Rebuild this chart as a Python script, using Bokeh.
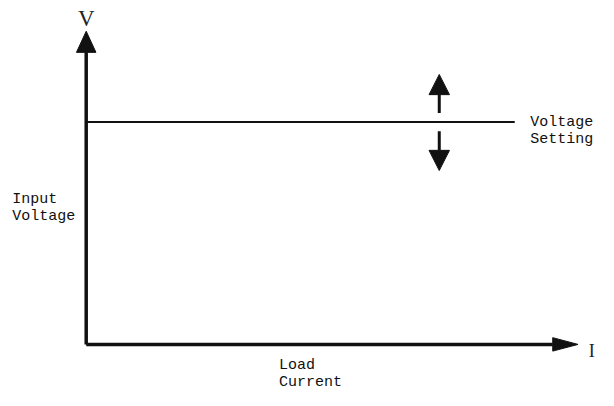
from bokeh.plotting import figure
from bokeh.models import Range1d
from bokeh.core.properties import value
from bokeh.embed import file_html
from bokeh.resources import INLINE

# ---- diagram values (origin = axes corner) ----
current_axis_end = [505]        # I axis arrow tip
voltage_axis_end = [326]        # V axis arrow tip
voltage_setting = [231.5]       # level of the constant input voltage
setting_line_end = [440]        # where the setting line stops
adjust_at = [362.5]             # current position of the up/down adjust arrows
adjust_up_tip = [281]
adjust_down_tip = [181]
adjust_gap = [9.5]              # half gap around the line

axis_names = ["V", "I"]
label_lines_setting = ["Voltage", "Setting"]
label_lines_input = ["Input", "Voltage"]
label_lines_load = ["Load", "Current"]

# ---- styles ----
AX_W = 3.5
HEAD_Y = (20, 22)    # (width, length) of V axis head
HEAD_X = (14, 26)    # (width, length) of I axis head
HEAD_ADJ = (21, 21)
MONO = value("Liberation Mono")
SERIF = value("Liberation Serif")
INK = "#111111"

p = figure(width=598, height=390, output_backend="svg", toolbar_location=None,
           x_range=Range1d(-88, 526), y_range=Range1d(-48, 358),
           min_border=0, outline_line_color=None,
           background_fill_color="white", border_fill_color="white")
p.axis.visible = False
p.grid.visible = False

vx = voltage_axis_end[0]
ix = current_axis_end[0]

# axes shafts
p.segment(x0=[0, 0], y0=[0, 0], x1=[0, ix - HEAD_X[1]], y1=[vx - HEAD_Y[1], 0],
          line_width=AX_W, line_color=INK)
# axis heads
p.patches(xs=[[-HEAD_Y[0] / 2, HEAD_Y[0] / 2, 0],
              [ix - HEAD_X[1], ix - HEAD_X[1], ix]],
          ys=[[vx - HEAD_Y[1], vx - HEAD_Y[1], vx],
              [-HEAD_X[0] / 2, HEAD_X[0] / 2, 0]],
          fill_color=INK, line_color=INK, line_width=1)

# voltage setting line
p.segment(x0=[0], y0=voltage_setting, x1=setting_line_end, y1=voltage_setting,
          line_width=2, line_color=INK)

# adjust arrows
ax = adjust_at[0]
vs = voltage_setting[0]
g = adjust_gap[0]
up = adjust_up_tip[0]
dn = adjust_down_tip[0]
p.segment(x0=[ax, ax], y0=[vs + g, vs - g],
          x1=[ax, ax], y1=[up - HEAD_ADJ[1], dn + HEAD_ADJ[1]],
          line_width=3, line_color=INK)
hw = HEAD_ADJ[0] / 2
p.patches(xs=[[ax - hw, ax + hw, ax], [ax - hw, ax + hw, ax]],
          ys=[[up - HEAD_ADJ[1], up - HEAD_ADJ[1], up],
              [dn + HEAD_ADJ[1], dn + HEAD_ADJ[1], dn]],
          fill_color=INK, line_color=INK, line_width=1)

# axis letters
p.text(x=[0], y=[vx + 13], text=[axis_names[0]], text_font=SERIF,
       text_font_size="23px", text_align="center", text_baseline="alphabetic",
       text_color="#222222")
p.text(x=[ix + 14], y=[-7], text=[axis_names[1]], text_font=SERIF,
       text_font_size="18px", text_align="center", text_baseline="alphabetic",
       text_color="#222222")

# labels
def two_lines(x, y_first, lines):
    p.text(x=[x, x], y=[y_first, y_first - 17.5], text=lines, text_font=MONO,
           text_font_size="15px", text_align="left", text_baseline="alphabetic",
           text_color=INK)

two_lines(456, 231, label_lines_setting)
two_lines(-76, 151, label_lines_input)
two_lines(198, -22, label_lines_load)

open("out.html", "w").write(file_html(p, INLINE))
